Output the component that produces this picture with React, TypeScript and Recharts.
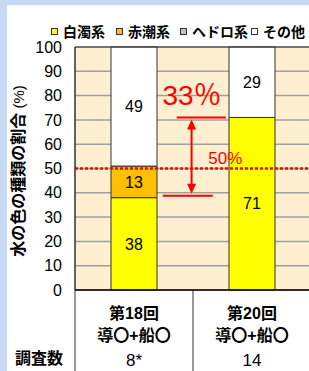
import React from 'react';
import {
  BarChart,
  Bar,
  XAxis,
  YAxis,
  CartesianGrid,
  Legend,
  LabelList,
  ReferenceLine,
  ReferenceDot,
} from 'recharts';

// ---- data ----
const categories = ['第18回', '第20回'];
const methods = ['導〇+船〇', '導〇+船〇'];
const surveyCounts = ['8*', '14'];
const surveyCountTitle = '調査数';
const hakudaku = [38, 71];
const akashio = [13, 0];
const hedoro = [0, 0];
const sonota = [49, 29];
const seriesNames = ['白濁系', '赤潮系', 'ヘドロ系', 'その他'];
const seriesKeys = ['s0', 's1', 's2', 's3'];
const seriesColors = ['#ffff00', '#ffc000', '#c0c0c0', '#ffffff'];
const yTicks = [0, 10, 20, 30, 40, 50, 60, 70, 80, 90, 100];
const yTitle = '水の色の種類の割合';
const yUnit = ' (%)';
const thresholdValue = 50;
const thresholdLabel = '50%';
const gapTop = 71;
const gapBottom = 38.8;
const gapLabel = '33％';

const data = categories.map((c, i) => ({
  name: c,
  s0: hakudaku[i],
  s1: akashio[i],
  s2: hedoro[i],
  s3: sonota[i],
}));

const NUM_FONT = "'Liberation Sans', Arial, 'Noto Sans CJK JP', sans-serif";
const JP_FONT = "'Liberation Sans', 'Noto Sans CJK JP', sans-serif";
const legendLefts = [51, 116, 180, 251];

const LegendContent = () => (
  <div style={{ position: 'relative', height: 18, width: 320 }}>
    {seriesNames.map((n, i) => (
      <div
        key={n}
        style={{
          position: 'absolute',
          left: legendLefts[i],
          top: 0,
          height: 18,
          display: 'flex',
          alignItems: 'center',
          whiteSpace: 'nowrap',
        }}
      >
        <span
          style={{
            display: 'inline-block',
            width: 5,
            height: 5,
            border: '1px solid #333',
            background: seriesColors[i],
            marginRight: 5,
          }}
        />
        <span style={{ fontFamily: JP_FONT, fontWeight: 'bold', fontSize: 14, color: '#000' }}>{n}</span>
      </div>
    ))}
  </div>
);

const XTick = (props: any) => {
  const { x, y, payload, index } = props;
  return (
    <g>
      <text x={x} y={y + 21} textAnchor="middle" dominantBaseline="central" fontFamily={JP_FONT} fontWeight="bold" fontSize={16} fill="#000">
        {payload.value}
      </text>
      <text x={x} y={y + 43} textAnchor="middle" dominantBaseline="central" fontFamily={JP_FONT} fontWeight="bold" fontSize={16} fill="#000">
        {methods[index]}
      </text>
      <text x={x} y={y + 68} textAnchor="middle" dominantBaseline="central" fontFamily={JP_FONT} fontSize={17} fill="#000">
        {surveyCounts[index]}
      </text>
    </g>
  );
};

const ExtendDown = (full: boolean) => (p: any) => {
  const top = Math.min(p.y1, p.y2);
  const bottom = Math.max(p.y1, p.y2);
  return <line x1={p.x1} x2={p.x2} y1={full ? top : bottom} y2={bottom + 90} stroke="#333" strokeWidth={1} />;
};

const ArrowShape = (p: any) => {
  const x = p.x1;
  const top = Math.min(p.y1, p.y2) + 2;
  const bottom = Math.max(p.y1, p.y2) - 2;
  return (
    <g>
      <line x1={x} x2={x} y1={top + 8} y2={bottom - 8} stroke="#ff0000" strokeWidth={2} />
      <polygon points={`${x},${top} ${x - 4.5},${top + 10} ${x + 4.5},${top + 10}`} fill="#ff0000" />
      <polygon points={`${x},${bottom} ${x - 4.5},${bottom - 10} ${x + 4.5},${bottom - 10}`} fill="#ff0000" />
    </g>
  );
};

const textLabel = (txt: string, size: number) => (p: any) => {
  const vb = p.viewBox || {};
  const cx = (vb.x || 0) + (vb.width || 0) / 2;
  const cy = (vb.y || 0) + (vb.height || 0) / 2;
  return (
    <text x={cx} y={cy} textAnchor="middle" dominantBaseline="central" fontFamily={NUM_FONT} fontSize={size} fill="#ff0000">
      {txt}
    </text>
  );
};

export default function App() {
  return (
    <div style={{ position: 'fixed', left: 0, top: 0, width: 309, height: 371, overflow: 'hidden', background: '#c6dbf3' }}>
      <div style={{ position: 'absolute', left: 7, top: 5, right: 0, bottom: 0, background: '#ffffff' }} />
      <div style={{ position: 'absolute', left: 0, top: 0 }}>
        <BarChart width={319} height={371} data={data} margin={{ top: 29, right: 8, bottom: 0, left: 0 }}>
          <CartesianGrid horizontal vertical={false} stroke="#a0a0a0" strokeWidth={1.5} fill="#fdefcf" />
          <Legend verticalAlign="top" content={LegendContent} wrapperStyle={{ left: 0, top: 22, width: 320, height: 18 }} />
          <XAxis
            dataKey="name"
            interval={0}
            height={81}
            tickLine={false}
            tickSize={0}
            axisLine={{ stroke: '#000', strokeWidth: 1.5 }}
            tick={XTick}
            label={{
              content: (p: any) => {
                const vb = p.viewBox || {};
                return (
                  <text x={(vb.x || 0) - 36} y={(vb.y || 0) + 68} textAnchor="middle" dominantBaseline="central" fontFamily={JP_FONT} fontWeight="bold" fontSize={16} fill="#000">
                    {surveyCountTitle}
                  </text>
                );
              },
            }}
          />
          <XAxis xAxisId="n" type="number" domain={[0, 1]} hide allowDataOverflow />
          <YAxis
            width={75}
            domain={[0, 100]}
            ticks={yTicks}
            interval={0}
            tickLine={false}
            tickSize={6}
            tickMargin={7}
            axisLine={{ stroke: '#333', strokeWidth: 1 }}
            tick={{ fontFamily: NUM_FONT, fontSize: 16, fill: '#000' }}
            label={{
              content: (p: any) => {
                const vb = p.viewBox || {};
                const cx = (vb.x || 0) + 18;
                const cy = (vb.y || 0) + (vb.height || 0) / 2 + 2.5;
                return (
                  <text transform={`rotate(-90 ${cx} ${cy})`} x={cx} y={cy} textAnchor="middle" dominantBaseline="central" fontFamily={JP_FONT} fontSize={16} fill="#000">
                    <tspan fontWeight="bold">{yTitle}</tspan>
                    <tspan fontSize={15}>{yUnit}</tspan>
                  </text>
                );
              },
            }}
          />
          {seriesKeys.map((k, i) => (
            <Bar key={k} dataKey={k} name={seriesNames[i]} stackId="a" fill={seriesColors[i]} stroke="#333" strokeWidth={1} barSize={46} isAnimationActive={false}>
              <LabelList
                dataKey={k}
                position="center"
                formatter={(v: any) => (v ? v : '')}
                style={{ fontFamily: NUM_FONT, fontSize: 16, fill: '#000' }}
              />
            </Bar>
          ))}
          <ReferenceLine y={100} stroke="#333" strokeWidth={1} />
          <ReferenceLine xAxisId="n" x={0} ifOverflow="visible" shape={ExtendDown(true)} />
          <ReferenceLine xAxisId="n" x={0.5} ifOverflow="visible" shape={ExtendDown(false)} />
          <ReferenceLine y={thresholdValue} stroke="#ff0000" strokeWidth={2.5} strokeDasharray="3 2" />
          <ReferenceLine xAxisId="n" segment={[{ x: 0.431, y: gapTop }, { x: 0.639, y: gapTop }]} stroke="#ff0000" strokeWidth={2} ifOverflow="visible" />
          <ReferenceLine xAxisId="n" segment={[{ x: 0.372, y: gapBottom }, { x: 0.584, y: gapBottom }]} stroke="#ff0000" strokeWidth={2} ifOverflow="visible" />
          <ReferenceLine xAxisId="n" segment={[{ x: 0.494, y: gapTop }, { x: 0.494, y: gapBottom }]} ifOverflow="visible" shape={ArrowShape} />
          <ReferenceDot xAxisId="n" x={0.496} y={80.2} r={0} stroke="none" fill="none" ifOverflow="visible" label={{ content: textLabel(gapLabel, 28) }} />
          <ReferenceDot xAxisId="n" x={0.637} y={54.3} r={0} stroke="none" fill="none" ifOverflow="visible" label={{ content: textLabel(thresholdLabel, 17) }} />
        </BarChart>
      </div>
    </div>
  );
}
